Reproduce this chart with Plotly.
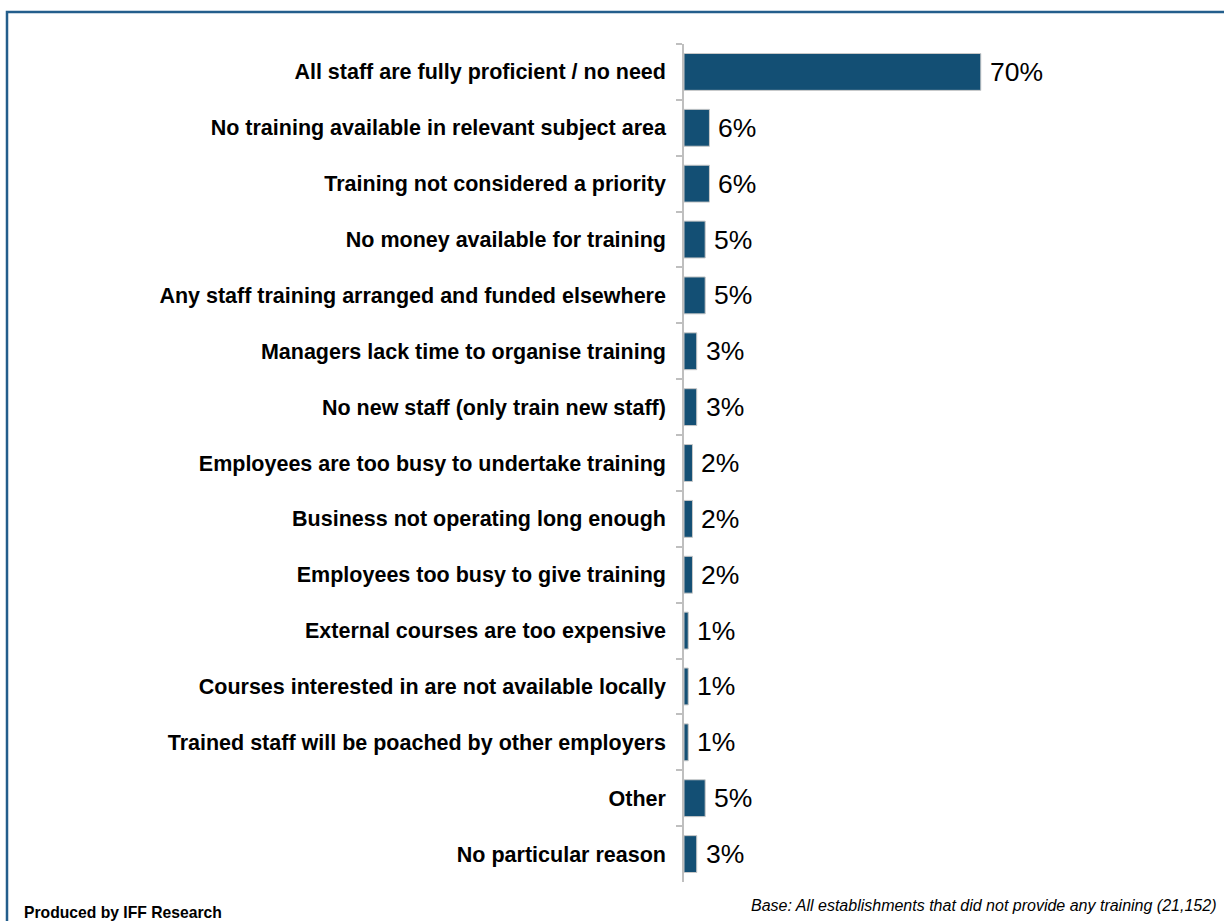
import plotly.graph_objects as go

# Reasons for not providing training (top to bottom)
reasons = [
    "All staff are fully proficient / no need",
    "No training available in relevant subject area",
    "Training not considered a priority",
    "No money available for training",
    "Any staff training arranged and funded elsewhere",
    "Managers lack time to organise training",
    "No new staff (only train new staff)",
    "Employees are too busy to undertake training",
    "Business not operating long enough",
    "Employees too busy to give training",
    "External courses are too expensive",
    "Courses interested in are not available locally",
    "Trained staff will be poached by other employers",
    "Other",
    "No particular reason",
]
shares = [70, 6, 6, 5, 5, 3, 3, 2, 2, 2, 1, 1, 1, 5, 3]

W, H = 1224, 921
ML, MR, MT, MB = 684, 116, 44, 39
PW, PH = W - ML - MR, H - MT - MB

FONT = "Liberation Sans, Arial, sans-serif"
BAR = "#134F74"

fig = go.Figure(
    go.Bar(
        x=shares,
        y=reasons,
        orientation="h",
        marker=dict(color=BAR, line=dict(color="#C8C8C8", width=1)),
        hoverinfo="skip",
    )
)

# value labels beside each bar
for r, v in zip(reasons, shares):
    fig.add_annotation(
        x=v, y=r, text=f"{v}%", showarrow=False,
        xanchor="left", yanchor="middle", xshift=7,
        font=dict(family=FONT, size=26.5, color="#000000"),
    )

def px_to_paper_x(px):
    return (px - ML) / PW

def px_to_paper_y(py):
    return (H - MB - py) / PH

# outer frame
fig.add_shape(
    type="rect", xref="paper", yref="paper",
    x0=px_to_paper_x(7), x1=px_to_paper_x(1232),
    y0=px_to_paper_y(930), y1=px_to_paper_y(12),
    line=dict(color="#235E8C", width=2.5), fillcolor="rgba(0,0,0,0)",
    layer="below",
)

fig.add_annotation(
    xref="paper", yref="paper", x=px_to_paper_x(22), y=px_to_paper_y(912),
    text="<b>Produced by IFF Research</b>", showarrow=False,
    xanchor="left", yanchor="middle",
    font=dict(family=FONT, size=15.7, color="#000000"),
)
fig.add_annotation(
    xref="paper", yref="paper", x=px_to_paper_x(1218), y=px_to_paper_y(905),
    text="<i>Base: All establishments that did not provide any training (21,152)</i>",
    showarrow=False, xanchor="right", yanchor="middle",
    font=dict(family=FONT, size=16, color="#000000"),
)

fig.update_layout(
    width=W, height=H,
    margin=dict(l=ML, r=MR, t=MT, b=MB, pad=0),
    paper_bgcolor="white", plot_bgcolor="white",
    bargap=0.34,
    showlegend=False,
    font=dict(family=FONT, color="#000000"),
)
fig.update_xaxes(range=[0, 100], visible=False, fixedrange=True)
fig.update_yaxes(
    autorange="reversed",
    showline=True, linecolor="#BFBFBF", linewidth=1.5,
    ticks="outside", tickson="boundaries", ticklen=6, tickcolor="#BFBFBF",
    tickwidth=1.5,
    showgrid=False, zeroline=False,
    tickfont=dict(family=FONT, size=21.5, color="#000000", weight="bold"),
    ticklabelstandoff=12,
    fixedrange=True,
)

fig.write_html("out.html")
